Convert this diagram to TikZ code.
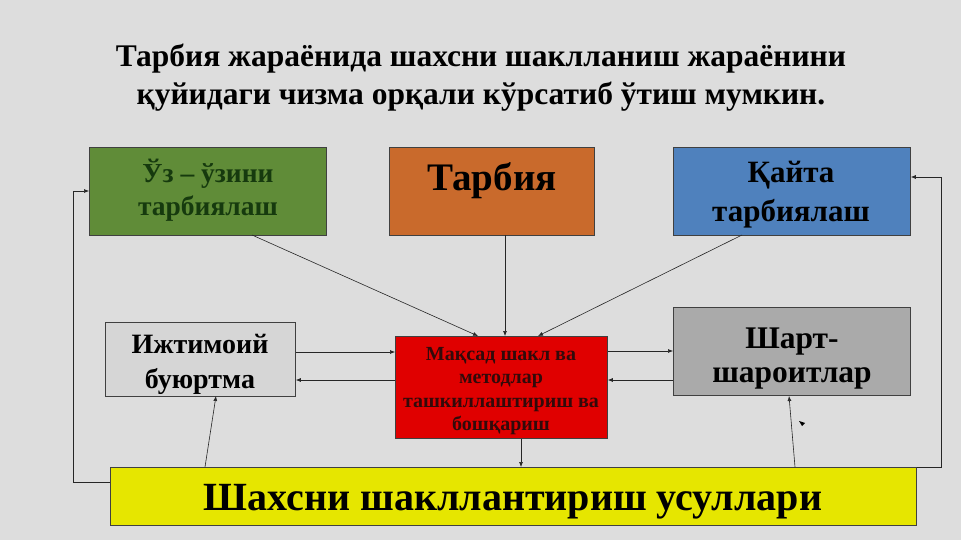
\documentclass[tikz,border=0pt]{standalone}
\usepackage{fontspec}
\setmainfont{Liberation Serif}
\usetikzlibrary{arrows.meta}
\definecolor{bg}{RGB}{221,221,221}
\definecolor{gbox}{RGB}{96,140,56}
\definecolor{gtext}{RGB}{22,58,14}
\definecolor{obox}{RGB}{201,106,44}
\definecolor{bbox}{RGB}{79,129,189}
\definecolor{lgbox}{RGB}{214,214,214}
\definecolor{rbox}{RGB}{224,0,0}
\definecolor{rtext}{RGB}{50,10,10}
\definecolor{dgbox}{RGB}{170,170,170}
\definecolor{ybox}{RGB}{230,230,0}
\tikzset{
  box/.style={draw=black!75, line width=0.8pt, rectangle, inner sep=0pt, align=center, font=\bfseries},
  arr/.style={-{Latex[length=5pt,width=4pt]}, line width=0.6pt, draw=black!85},
  ln/.style={line width=0.6pt, draw=black!85}
}
\begin{document}
\begin{tikzpicture}[x=1pt,y=-1pt]
\fill[bg] (0,0) rectangle (961,540);
\useasboundingbox (0,0) rectangle (961,540);
% title
\node[font=\fontsize{31.5}{38}\selectfont\bfseries, align=center] (title) at (481,78)
  {Тарбия жараёнида шахсни шаклланиш жараёнини\\қуйидаги чизма орқали кўрсатиб ўтиш мумкин.};
% boxes
\node[box, fill=gbox, minimum width=237, minimum height=88, anchor=north west] (self) at (89,147) {};
\node[font=\fontsize{27.5}{33}\selectfont\bfseries, text=gtext, align=center] (selft) at (208,190) {Ўз – ўзини\\тарбиялаш};
\node[box, fill=obox, minimum width=205, minimum height=88, anchor=north west] (tar) at (389,147) {};
\node[font=\fontsize{39}{40}\selectfont\bfseries] (tart) at (492,181) {Тарбия};
\node[box, fill=bbox, minimum width=237, minimum height=88, anchor=north west] (qay) at (673,147) {};
\node[font=\fontsize{31}{39}\selectfont\bfseries, align=center] (qayt) at (791,195) {Қайта\\тарбиялаш};
\node[box, fill=lgbox, minimum width=190, minimum height=74, anchor=north west] (izh) at (105,322) {};
\node[font=\fontsize{28}{35}\selectfont\bfseries, align=center] (izht) at (200,364) {Ижтимоий\\буюртма};
\node[box, fill=rbox, minimum width=212, minimum height=102, anchor=north west] (red) at (395,336) {};
\node[font=\fontsize{20}{23.5}\selectfont\bfseries, text=rtext, align=center] (redt) at (501,391)
  {Мақсад шакл ва\\методлар\\ташкиллаштириш ва\\бошқариш};
\node[box, fill=dgbox, minimum width=237, minimum height=88, anchor=north west] (shart) at (673,307) {};
\node[font=\fontsize{31.5}{34}\selectfont\bfseries, align=center] (shartt) at (792,359) {Шарт-\\шароитлар};
\node[box, fill=ybox, minimum width=806, minimum height=58, anchor=north west] (yel) at (110,467) {};
\node[font=\fontsize{40}{42}\selectfont\bfseries] (yelt) at (513,502) {Шахсни шакллантириш усуллари};
% arrows to red
\draw[arr] (252,235) -- (478,336);
\draw[arr] (505,235) -- (505,336);
\draw[arr] (742,235) -- (538,336);
\draw[arr] (izh.east |- 0,352) -- (red.west |- 0,352);
\draw[arr] (red.west |- 0,380) -- (izh.east |- 0,380);
\draw[arr] (red.east |- 0,351) -- (shart.west |- 0,351);
\draw[arr] (shart.west |- 0,380) -- (red.east |- 0,380);
\draw[arr] (red.south -| 521,0) -- (yel.north -| 521,0);
\draw[arr] (205,467) -- (216,396);
\draw[arr] (795,467) -- (789,396);
% loops
\coordinate (l1) at (73,482);
\coordinate (l2) at (73,191);
\draw[arr] (yel.west |- 0,482) -- (l1) -- (l2) -- (self.west |- 0,191);
\coordinate (r1) at (941,467);
\coordinate (r2) at (941,177);
\draw[arr] (yel.north east) -- (r1) -- (r2) -- (qay.east |- 0,177);
% small stray arrowhead
\fill[black] (799,421) -- (805,423) -- (802,426) -- cycle;
\end{tikzpicture}
\end{document}
